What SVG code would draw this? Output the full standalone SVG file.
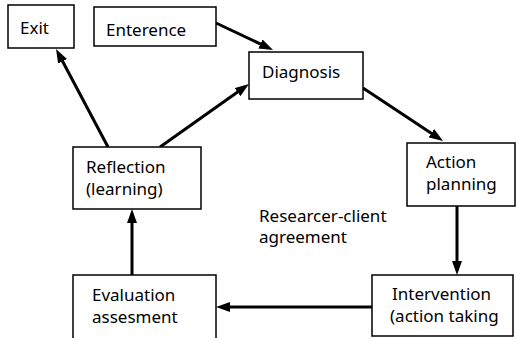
<svg xmlns="http://www.w3.org/2000/svg" width="516" height="338" viewBox="0 0 516 338">
<style>
.box{fill:#fff;stroke:#000;stroke-width:1.5}
.t{font-family:"Noto Sans","Liberation Sans",sans-serif;font-size:17px;fill:#000}
.c{stroke:#000;stroke-width:3;fill:none}
</style>
<defs>
<marker id="ah" viewBox="0 0 14 10" markerWidth="14" markerHeight="10" refX="4" refY="5" orient="auto" markerUnits="userSpaceOnUse">
<path d="M0,0 L14,5 L0,10 Z" fill="#000"/>
</marker>
</defs>
<rect width="516" height="338" fill="#fff"/>
<g id="connectors">
<line class="c" x1="216" y1="23" x2="264" y2="45.7" marker-end="url(#ah)"/>
<line class="c" x1="363" y1="88" x2="434.7" y2="135.5" marker-end="url(#ah)"/>
<line class="c" x1="457" y1="206" x2="457" y2="265" marker-end="url(#ah)"/>
<line class="c" x1="372" y1="307" x2="226" y2="307" marker-end="url(#ah)"/>
<line class="c" x1="132" y1="275" x2="132" y2="219" marker-end="url(#ah)"/>
<line class="c" x1="108" y1="147" x2="60.7" y2="57.8" marker-end="url(#ah)"/>
<line class="c" x1="160" y1="147" x2="240.8" y2="89.8" marker-end="url(#ah)"/>
</g>
<g id="exit"><rect class="box" x="8" y="5" width="66" height="43"/><text class="t" x="20" y="34">Exit</text></g>
<g id="enterence"><rect class="box" x="94" y="7" width="122" height="39"/><text class="t" x="106" y="36">Enterence</text></g>
<g id="diagnosis"><rect class="box" x="249" y="52" width="114" height="47"/><text class="t" x="262" y="78">Diagnosis</text></g>
<g id="action-planning"><rect class="box" x="407" y="143" width="108" height="63"/><text class="t" x="426" y="168">Action</text><text class="t" x="426" y="190">planning</text></g>
<g id="intervention"><rect class="box" x="372" y="275" width="141" height="61"/><text class="t" x="392" y="300">Intervention</text><text class="t" x="390" y="322">(action taking</text></g>
<g id="evaluation"><rect class="box" x="73" y="275" width="143" height="70"/><text class="t" x="92" y="301">Evaluation</text><text class="t" x="92" y="323">assesment</text></g>
<g id="reflection"><rect class="box" x="73" y="147" width="128" height="62"/><text class="t" x="86" y="173">Reflection</text><text class="t" x="86" y="195">(learning)</text></g>
<g id="agreement-label"><text class="t" x="259" y="222">Researcer-client</text><text class="t" x="259" y="243">agreement</text></g>
</svg>
